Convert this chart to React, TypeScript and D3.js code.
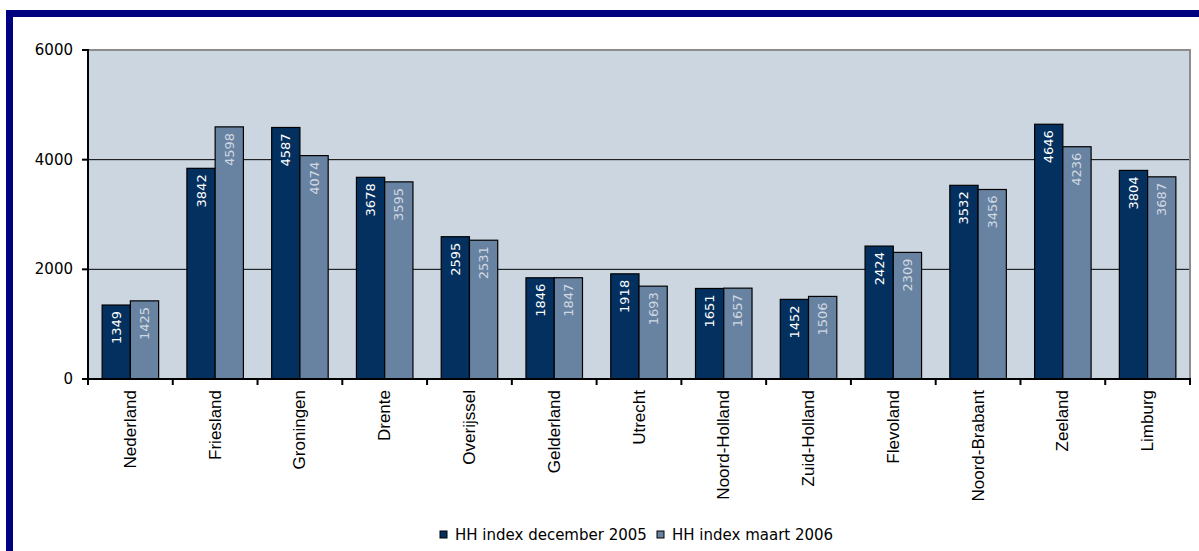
import React from "react";
import * as d3 from "d3";

const categories = [
  "Nederland", "Friesland", "Groningen", "Drente", "Overijssel", "Gelderland",
  "Utrecht", "Noord-Holland", "Zuid-Holland", "Flevoland", "Noord-Brabant", "Zeeland", "Limburg",
];
const dec2005 = [1349, 3842, 4587, 3678, 2595, 1846, 1918, 1651, 1452, 2424, 3532, 4646, 3804];
const mrt2006 = [1425, 4598, 4074, 3595, 2531, 1847, 1693, 1657, 1506, 2309, 3456, 4236, 3687];
const seriesNames = ["HH index december 2005", "HH index maart 2006"];
const yTicks = [0, 2000, 4000, 6000];

const W = 1199;
const H = 551;
const plot = { left: 88, right: 1190, top: 50, bottom: 379 };
const colors = ["#03305E", "#6883A1"];
const labelColors = ["#FFFFFF", "#D0D8E2"];

export default function App() {
  const x = d3.scaleBand<string>().domain(categories).range([plot.left, plot.right]).paddingInner(0).paddingOuter(0);
  const xInner = d3.scaleBand<number>().domain([0, 1]).range([0, x.bandwidth()]).paddingOuter(0.5).paddingInner(0);
  const y = d3.scaleLinear().domain([0, 6000]).range([plot.bottom, plot.top]);
  const series = [dec2005, mrt2006];
  const fontV = "'DejaVu Sans', Verdana, sans-serif";
  const fontA = "'Liberation Sans', Arial, sans-serif";
  const boundaries = categories.map((c) => x(c)!).concat([plot.right]);

  return (
    <div style={{ position: "absolute", left: 0, top: 0 }}>
      <svg width={W} height={H} style={{ display: "block" }}>
        <rect x={0} y={0} width={W} height={H} fill="#fff" />
        {/* frame */}
        <rect x={6} y={10} width={W - 6} height={7} fill="#000080" />
        <rect x={6} y={10} width={7} height={H - 10} fill="#000080" />
        {/* plot bg */}
        <rect x={plot.left} y={plot.top} width={plot.right - plot.left} height={plot.bottom - plot.top} fill="#CBD6E0" />
        {/* grid */}
        {yTicks.slice(1, -1).map((t) => (
          <line key={t} x1={plot.left} x2={plot.right} y1={y(t)} y2={y(t)} stroke="#000" strokeWidth={1} />
        ))}
        <line x1={plot.left} x2={plot.right + 1} y1={y(6000)} y2={y(6000)} stroke="#8C8C8C" strokeWidth={2} />
        <line x1={plot.right} x2={plot.right} y1={plot.top} y2={plot.bottom} stroke="#8C8C8C" strokeWidth={2} />
        {/* bars */}
        {categories.map((c, i) => (
          <g key={c}>
            {series.map((s, j) => {
              const bx = x(c)! + xInner(j)!;
              const by = y(s[i]);
              const bw = xInner.bandwidth();
              return (
                <g key={j}>
                  <rect x={bx} y={by} width={bw} height={plot.bottom - by} fill={colors[j]} stroke="#000" strokeWidth={1.2} />
                  <text
                    transform={`translate(${bx + bw / 2},${by + 6}) rotate(-90)`}
                    textAnchor="end"
                    dominantBaseline="central"
                    fontFamily={fontV}
                    fontSize={13}
                    fill={labelColors[j]}
                  >
                    {s[i]}
                  </text>
                </g>
              );
            })}
          </g>
        ))}
        {/* axes */}
        <line x1={plot.left} x2={plot.left} y1={plot.top - 1} y2={plot.bottom} stroke="#000" strokeWidth={2} />
        <line x1={plot.left - 6} x2={plot.right + 1} y1={plot.bottom} y2={plot.bottom} stroke="#000" strokeWidth={2} />
        {yTicks.map((t) => (
          <g key={t}>
            <line x1={plot.left - 6} x2={plot.left} y1={y(t)} y2={y(t)} stroke="#000" strokeWidth={2} />
            <text x={73} y={y(t)} textAnchor="end" dominantBaseline="central" fontFamily={fontV} fontSize={15} fill="#000">
              {t}
            </text>
          </g>
        ))}
        {boundaries.map((b, i) => (
          <line key={i} x1={b} x2={b} y1={plot.bottom} y2={plot.bottom + 6} stroke="#000" strokeWidth={2} />
        ))}
        {categories.map((c) => (
          <text
            key={c}
            transform={`translate(${x(c)! + x.bandwidth() / 2},390) rotate(-90)`}
            textAnchor="end"
            dominantBaseline="central"
            fontFamily={fontA}
            fontSize={17}
            fill="#000"
          >
            {c}
          </text>
        ))}
        {/* legend */}
        {seriesNames.map((n, j) => {
          const lx = j === 0 ? 440 : 657;
          return (
            <g key={n}>
              <rect x={lx} y={531} width={7} height={7} fill={colors[j]} stroke="#000" strokeWidth={1} />
              <text x={lx + 15} y={540} fontFamily={fontV} fontSize={15} fill="#000">
                {n}
              </text>
            </g>
          );
        })}
      </svg>
    </div>
  );
}
